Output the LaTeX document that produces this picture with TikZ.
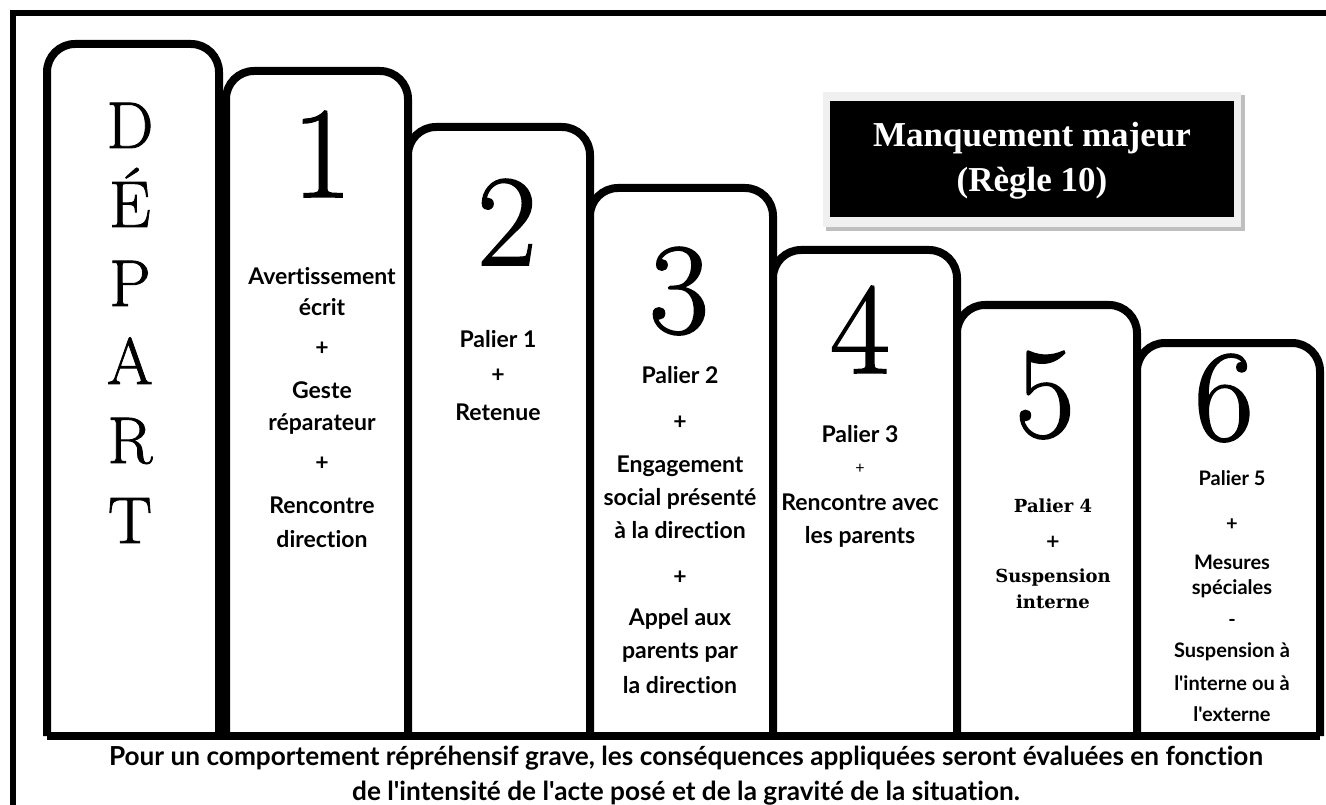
\documentclass[tikz,border=0pt]{standalone}
\usepackage{fontspec}
\newfontfamily\comic{Lato}[Ligatures={NoCommon}]
\newfontfamily\slab{DejaVu Serif}
\newfontfamily\boxfont{Liberation Serif}
\newfontfamily\bigserif{Latin Modern Roman}[FakeBold=1.3]
\tikzset{
  tabshape/.style={draw=black, fill=white, line width=8pt, rounded corners=28pt},
  bigletter/.style={anchor=base, inner sep=0pt, font=\bigserif\fontsize{66}{66}\selectfont},
  digit/.style={anchor=base, inner sep=0pt, font=\bigserif\fontsize{130}{130}\selectfont},
  txt/.style={anchor=base, inner sep=0pt, font=\comic\bfseries\fontsize{23}{27}\selectfont},
  txtsmall/.style={anchor=base, inner sep=0pt, font=\comic\bfseries\fontsize{20}{24}\selectfont},
  txtslab/.style={anchor=base, inner sep=0pt, font=\slab\bfseries\fontsize{18}{22}\selectfont},
  foot/.style={anchor=base, inner sep=0pt, font=\comic\bfseries\fontsize{26.2}{30}\selectfont},
  boxtxt/.style={anchor=base, inner sep=0pt, text=white, font=\boxfont\bfseries\fontsize{35}{40}\selectfont},
}
\begin{document}
\begin{tikzpicture}[x=1pt,y=-1pt]
\useasboundingbox (0,0) rectangle (1326,805);
% outer frame
\draw[line width=6pt] (1340,13) -- (13,13) -- (13,820);
% tabs
\foreach \a/\b/\t [count=\i] in {47/219/44, 226/408/71, 408/590/127, 590/773/188, 773/957/250, 957/1137/305, 1137/1320/343}{
  \filldraw[tabshape] (\a,736) coordinate (tab\i-bl) -- (\a,\t) -- (\b,\t) -- (\b,736) coordinate (tab\i-br);
}
\draw[line width=8pt, line cap=square] (tab1-bl) -- (tab7-br);
% DEPART
\foreach \y/\l [count=\i] in {148/D, 227/É, 306/P, 384/A, 463/R, 543/T}
  \node[bigletter] (dep\i) at (130,\y) {\l};
% digits
\node[digit] (n1) at (322,197) {1};
\node[digit] (n2) at (507,265) {2};
\node[digit] (n3) at (679,333) {3};
\node[digit] (n4) at (860,373) {4};
\node[digit] (n5) at (1045,437) {5};
\node[digit] (n6) at (1224,440) {6};
% tab 1
\foreach \y/\t [count=\i] in {285/Avertissement, 316/écrit, 355/+, 398/Geste, 430/réparateur, 470/+, 513/Rencontre, 547/direction}
  \node[txt] (ta\i) at (322,\y) {\t};
% tab 2
\foreach \y/\t [count=\i] in {347/Palier 1, 382/+, 420/Retenue}
  \node[txt] (tb\i) at (498,\y) {\t};
% tab 3
\foreach \y/\t [count=\i] in {383/Palier 2, 429/+, 472/Engagement, 505/social présenté, 538/à la direction, 584/+, 625/Appel aux, 658/parents par, 693/la direction}
  \node[txt] (tc\i) at (680,\y) {\t};
% tab 4
\foreach \y/\t [count=\i] in {442/Palier 3, 510/Rencontre avec, 543/les parents}
  \node[txt] (td\i) at (860,\y) {\t};
\node[txtsmall, font=\comic\fontsize{16}{16}\selectfont] (tdp) at (860,473) {+};
% tab 5
\foreach \y/\t [count=\i] in {512/Palier 4, 547/+, 582/Suspension, 608/interne}
  \node[txtslab] (te\i) at (1053,\y) {\t};
% tab 6
\foreach \y/\t [count=\i] in {485/Palier 5, 530/+, 569/Mesures, 594/spéciales, 626/-, 657/Suspension à, 690/l'interne ou à, 721/l'externe}
  \node[txtsmall] (tf\i) at (1232,\y) {\t};
% black box
\fill[black!25] (826,95) rectangle (1245,231);
\fill[black!6] (823,92) rectangle (1241,227);
\node[fill=black, inner sep=0pt, minimum width=404pt, minimum height=116pt] (mm) at (1032,159) {};
\node[boxtxt] (mm1) at (1032,147) {Manquement majeur};
\node[boxtxt] (mm2) at (1032,192) {(Règle 10)};
% footer
\node[foot] (f1) at (686,765) {Pour un comportement répréhensif grave, les conséquences appliquées seront évaluées en fonction};
\node[foot] (f2) at (686,800) {de l'intensité de l'acte posé et de la gravité de la situation.};
\end{tikzpicture}
\end{document}
